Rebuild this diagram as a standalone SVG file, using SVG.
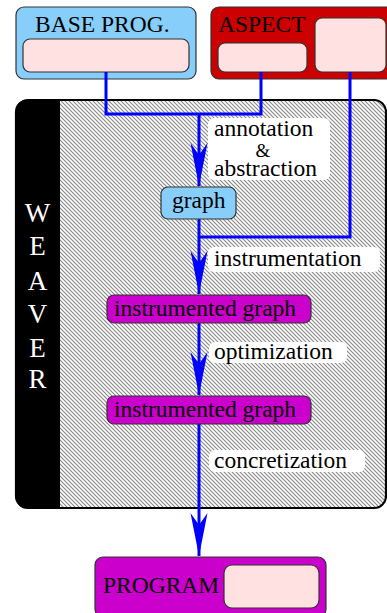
<svg xmlns="http://www.w3.org/2000/svg" width="387" height="613" viewBox="0 0 387 613" font-family="'Liberation Serif', 'Times New Roman', Tinos, 'Nimbus Roman', 'DejaVu Serif', serif">
<style>
text{font-family:'Liberation Serif','Times New Roman',Tinos,'Nimbus Roman','DejaVu Serif',serif;font-size:23.5px;fill:#000}
.box{stroke:#333;stroke-width:1.2}
.blue{fill:#87CEFA}
.red{fill:#CC0000}
.mag{fill:#CC00CC}
.pink{fill:#FFE1E1}
.lbl{fill:#fff;stroke:none}
.wv{fill:#fff;font-size:27px}
.conn{fill:none;stroke:#0000FF;stroke-width:3}
</style>
<defs>
<pattern id="hatch" width="4" height="4" patternUnits="userSpaceOnUse">
<rect width="4" height="4" fill="#fff"/>
<path d="M-1,-1 L5,5 M-1,3 L1,5 M3,-1 L5,1" stroke="#8a8a8a" stroke-width="1.2"/>
</pattern>
<marker id="arr" viewBox="-43 -9 44 18" refX="0" refY="0" markerWidth="44" markerHeight="18" markerUnits="userSpaceOnUse" orient="auto">
<path d="M0,0 L-43,-8.5 L-31,0 L-43,8.5 Z" fill="#0000FF"/>
</marker>
</defs>

<g id="weaver">
<rect x="16" y="100" width="370" height="408" rx="12" fill="url(#hatch)"/>
<path d="M60,100 L28,100 Q16,100 16,112 L16,496 Q16,508 28,508 L60,508 Z" fill="#000"/>
<rect x="16" y="100" width="370" height="408" rx="12" fill="none" stroke="#000" stroke-width="2.2"/>
<text class="wv" x="37.5" y="222" text-anchor="middle">W</text>
<text class="wv" x="37.5" y="255" text-anchor="middle">E</text>
<text class="wv" x="37.5" y="290" text-anchor="middle">A</text>
<text class="wv" x="37.5" y="323" text-anchor="middle">V</text>
<text class="wv" x="37.5" y="357" text-anchor="middle">E</text>
<text class="wv" x="37.5" y="388" text-anchor="middle">R</text>
</g>

<g id="base-prog">
<rect class="box blue" x="16" y="7" width="180" height="72" rx="8"/>
<text x="35" y="32">BASE PROG.</text>
<rect class="box pink" x="23" y="39" width="166" height="33" rx="7"/>
</g>

<g id="aspect">
<rect class="box red" x="211" y="7" width="190" height="72" rx="8"/>
<text x="218" y="32">ASPECT</text>
<rect class="box pink" x="218" y="43" width="89" height="29" rx="7"/>
<rect class="box pink" x="315" y="18" width="71" height="54" rx="7"/>
</g>

<g id="labels">
<rect class="lbl" x="208" y="118" width="122" height="62" rx="6"/>
<text x="214" y="136">annotation</text>
<text x="263" y="157" text-anchor="middle" style="font-size:19px">&amp;</text>
<text x="214" y="176">abstraction</text>
<rect class="lbl" x="208" y="247" width="172" height="25" rx="6"/>
<text x="214" y="266">instrumentation</text>
<rect class="lbl" x="209" y="342" width="138" height="21" rx="6"/>
<text x="214" y="359">optimization</text>
<rect class="lbl" x="209" y="450" width="156" height="22" rx="6"/>
<text x="214" y="468">concretization</text>
</g>

<g id="connectors">
<path class="conn" d="M106,72 L106,114 L261,114 L261,72"/>
<path class="conn" d="M199,114 L199,186" marker-end="url(#arr)"/>
<path class="conn" d="M350,72 L350,237 L199,237"/>
<path class="conn" d="M199,219 L199,294" marker-end="url(#arr)"/>
<path class="conn" d="M199,323 L199,395" marker-end="url(#arr)"/>
<path class="conn" d="M199,424 L199,556" marker-end="url(#arr)"/>
</g>

<g id="graph">
<rect class="box blue" x="161" y="187" width="75" height="32" rx="7"/>
<text x="172" y="208">graph</text>
</g>

<g id="instrumented-graph-1">
<rect class="box mag" x="107" y="295" width="204" height="28" rx="7"/>
<text x="114" y="316">instrumented graph</text>
</g>

<g id="instrumented-graph-2">
<rect class="box mag" x="107" y="396" width="204" height="28" rx="7"/>
<text x="114" y="417">instrumented graph</text>
</g>

<g id="program">
<rect class="box mag" x="95" y="557" width="231" height="60" rx="8"/>
<text x="103" y="593">PROGRAM</text>
<rect class="box pink" x="224" y="565" width="95" height="43" rx="8"/>
</g>
</svg>
